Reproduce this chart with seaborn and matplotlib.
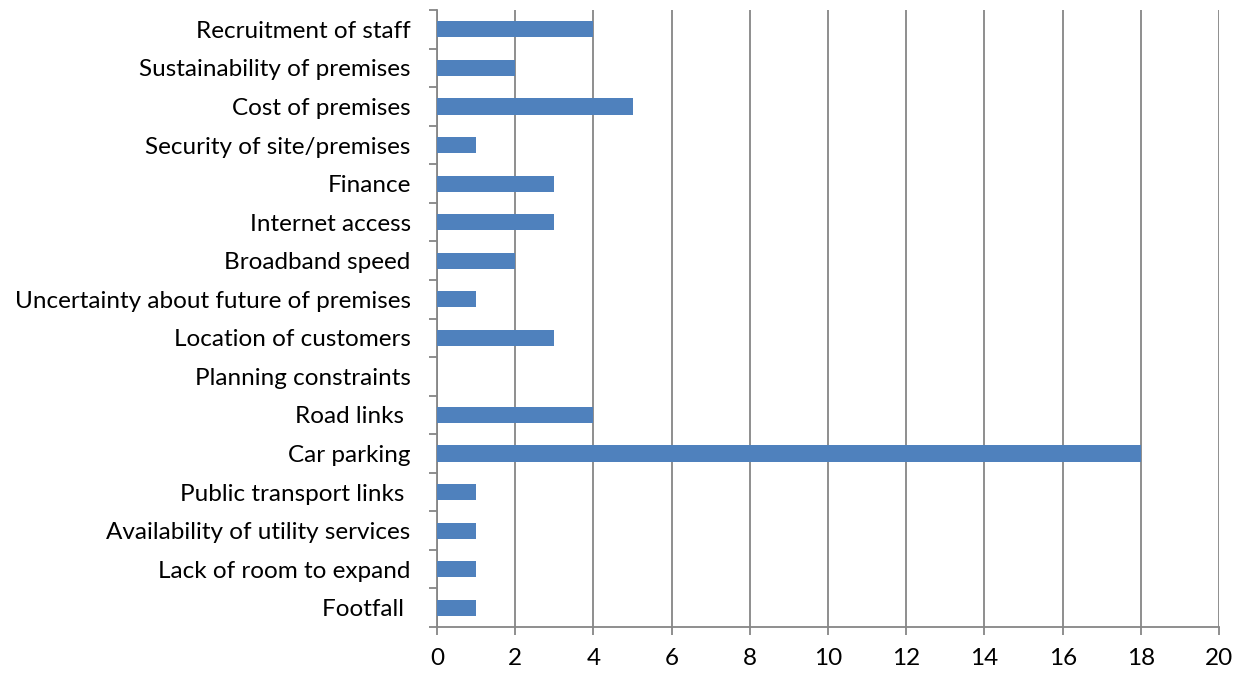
import matplotlib
matplotlib.use("Agg")
import matplotlib.pyplot as plt
from matplotlib.ticker import FixedLocator, MultipleLocator
import seaborn as sns
import pandas as pd

categories = [
    "Recruitment of staff",
    "Sustainability of premises",
    "Cost of premises",
    "Security of site/premises",
    "Finance",
    "Internet access",
    "Broadband speed",
    "Uncertainty about future of premises",
    "Location of customers",
    "Planning constraints",
    "Road links ",
    "Car parking",
    "Public transport links ",
    "Availability of utility services",
    "Lack of room to expand",
    "Footfall ",
]
counts = [4, 2, 5, 1, 3, 3, 2, 1, 3, 0, 4, 18, 1, 1, 1, 1]

df = pd.DataFrame({"issue": categories, "count": counts})

sns.set_theme(style="white")
plt.rcParams["font.family"] = ["Lato", "DejaVu Sans"]

fig = plt.figure(figsize=(12.43, 6.75), dpi=100)
ax = fig.add_axes([0.3516, 0.0711, 0.9807 - 0.3516, 0.985 - 0.0711])

grid_col = "#868686"
sns.barplot(data=df, x="count", y="issue", color="#4F81BD", saturation=1,
            width=0.42, orient="h", linewidth=0, ax=ax, zorder=3)

ax.set_xlim(0, 20)
ax.set_ylim(len(categories) - 0.5, -0.5)
ax.xaxis.set_major_locator(MultipleLocator(2))
ax.grid(axis="x", color=grid_col, linewidth=1.3, zorder=0)
ax.set_axisbelow(True)

for side in ("top", "right"):
    ax.spines[side].set_visible(False)
for side in ("left", "bottom"):
    ax.spines[side].set_color(grid_col)
    ax.spines[side].set_linewidth(1.3)

ax.set_xlabel("")
ax.set_ylabel("")

# category separators on the value axis
ax.yaxis.set_minor_locator(FixedLocator([i - 0.5 for i in range(len(categories) + 1)]))
ax.tick_params(axis="y", which="major", length=0, pad=19, labelsize=17.5, labelcolor="black")
ax.tick_params(axis="y", which="minor", left=True, length=5.5, width=1.3, color=grid_col)
ax.tick_params(axis="x", which="major", bottom=True, length=5.8, width=1.3, color=grid_col,
               labelsize=17.5, labelcolor="black", pad=9)

fig.savefig("out.png", dpi=100)
